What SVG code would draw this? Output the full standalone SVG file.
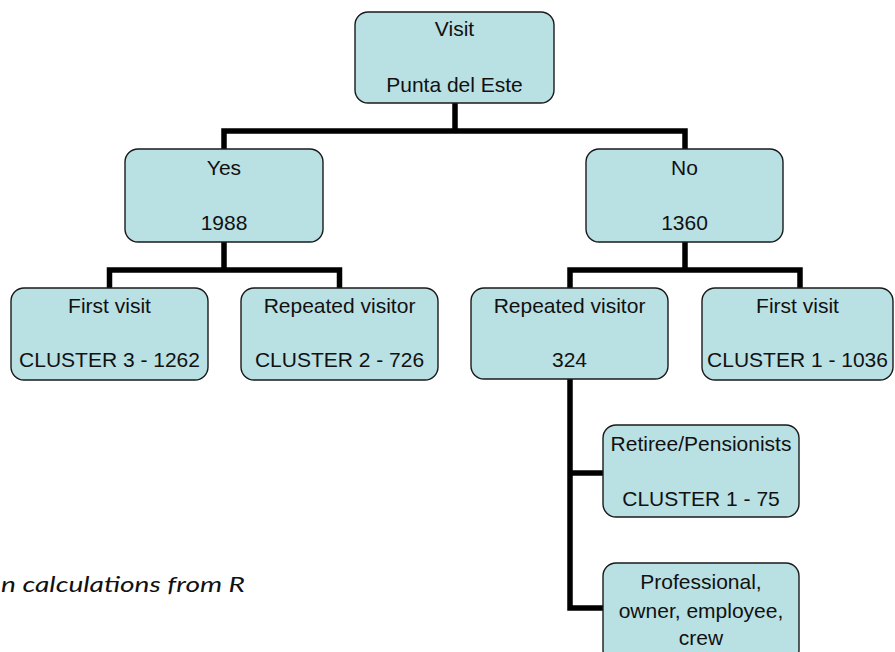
<svg xmlns="http://www.w3.org/2000/svg" width="895" height="652" viewBox="0 0 895 652">
  <style>
    .box { fill: #B9E0E3; stroke: #1a1a1a; stroke-width: 1.4; }
    .lbl { font-family: "Liberation Sans", Arial, sans-serif; font-size: 21px; fill: #111; text-anchor: middle; }
    .conn { fill: none; stroke: #000; stroke-width: 5.5; stroke-linejoin: miter; stroke-linecap: butt; }
    .note { font-family: Lato, "Open Sans", sans-serif; font-style: italic; font-size: 22px; fill: #111; }
  </style>
  <rect width="895" height="652" fill="#fff"/>
  <g id="connectors">
    <path class="conn" d="M455,103 V131"/>
    <path class="conn" d="M224,149 V131 H685 V149"/>
    <path class="conn" d="M224,242 V270"/>
    <path class="conn" d="M109.5,288 V270 H339.5 V288"/>
    <path class="conn" d="M685,242 V270"/>
    <path class="conn" d="M570,288 V270 H800 V288"/>
    <path class="conn" d="M570,379 V608 H603"/>
    <path class="conn" d="M570,473 H603"/>
  </g>
  <g id="visit">
    <rect class="box" x="355" y="12" width="199" height="91" rx="13"/>
    <text class="lbl" x="454.5" y="36">Visit</text>
    <text class="lbl" x="454.5" y="92">Punta del Este</text>
  </g>
  <g id="yes">
    <rect class="box" x="125" y="149" width="198" height="93" rx="13"/>
    <text class="lbl" x="224" y="175">Yes</text>
    <text class="lbl" x="224" y="230">1988</text>
  </g>
  <g id="no">
    <rect class="box" x="586" y="149" width="197" height="93" rx="13"/>
    <text class="lbl" x="684.5" y="175">No</text>
    <text class="lbl" x="684.5" y="230">1360</text>
  </g>
  <g id="yes-first">
    <rect class="box" x="11" y="288" width="197" height="92" rx="13"/>
    <text class="lbl" x="109.5" y="313">First visit</text>
    <text class="lbl" x="109.5" y="367">CLUSTER 3 - 1262</text>
  </g>
  <g id="yes-repeated">
    <rect class="box" x="241" y="288" width="197" height="92" rx="13"/>
    <text class="lbl" x="339.5" y="313">Repeated visitor</text>
    <text class="lbl" x="339.5" y="367">CLUSTER 2 - 726</text>
  </g>
  <g id="no-repeated">
    <rect class="box" x="471" y="288" width="197" height="91" rx="13"/>
    <text class="lbl" x="569.5" y="313">Repeated visitor</text>
    <text class="lbl" x="569.5" y="367">324</text>
  </g>
  <g id="no-first">
    <rect class="box" x="702" y="288" width="191" height="92" rx="13"/>
    <text class="lbl" x="797.5" y="313">First visit</text>
    <text class="lbl" x="797.5" y="367">CLUSTER 1 - 1036</text>
  </g>
  <g id="retiree">
    <rect class="box" x="603" y="425" width="196" height="92" rx="13"/>
    <text class="lbl" x="701" y="451">Retiree/Pensionists</text>
    <text class="lbl" x="701" y="506">CLUSTER 1 - 75</text>
  </g>
  <g id="professional">
    <rect class="box" x="603" y="563" width="196" height="100" rx="13"/>
    <text class="lbl" x="701" y="589">Professional,</text>
    <text class="lbl" x="701" y="618">owner, employee,</text>
    <text class="lbl" x="701" y="645">crew</text>
  </g>
  <text class="note" x="1" y="592" textLength="244" lengthAdjust="spacingAndGlyphs">n calculations from R</text>
</svg>
